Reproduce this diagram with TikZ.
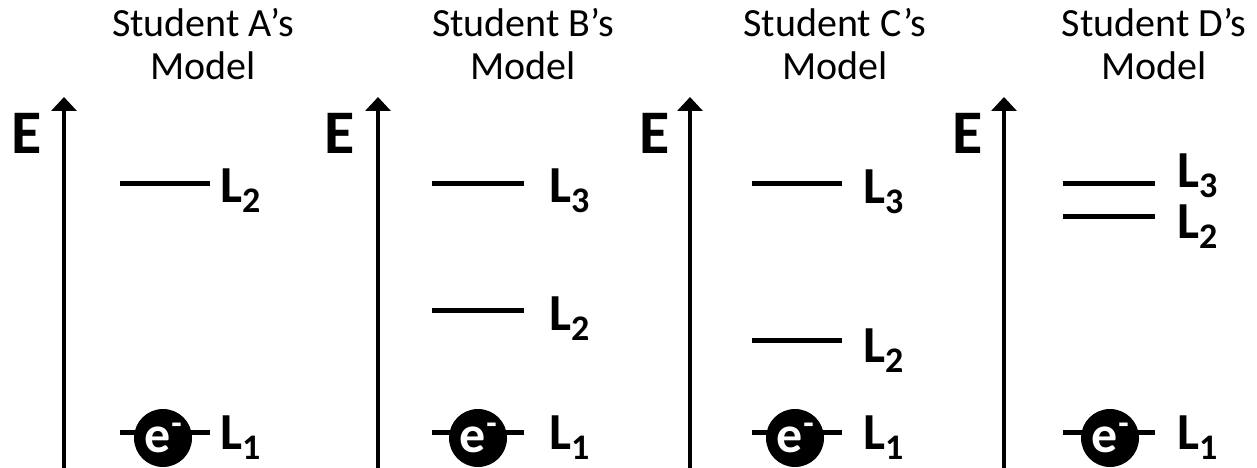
\documentclass[tikz,border=0pt]{standalone}
\usepackage{fontspec}
\setmainfont{Carlito}
\usetikzlibrary{arrows.meta,positioning}

\tikzset{
  axis/.style={line width=4pt, -{Triangle[width=25pt,length=14pt]}},
  level/.style={line width=5pt},
  title/.style={font=\fontsize{40}{43}\selectfont, align=center, anchor=base, inner sep=0pt},
  elabel/.style={font=\bfseries\fontsize{62}{62}\selectfont, anchor=base, inner sep=0pt},
  lvl/.style={font=\bfseries\fontsize{52}{52}\selectfont, anchor=base west, inner sep=0pt},
  electron/.style={circle, fill=black, text=white, minimum size=58pt, inner sep=0pt,
    font=\bfseries\fontsize{52}{52}\selectfont},
}
\newcommand{\lsub}[1]{L\raisebox{-0.2em}{\fontsize{36}{36}\selectfont #1}}
\newcommand{\elec}{e\kern1pt\raisebox{0.36em}{\fontsize{34}{34}\selectfont -}}

\begin{document}
\begin{tikzpicture}[x=1pt, y=-1pt]
\useasboundingbox (0,0) rectangle (1257,468);

% Axes, titles and ground level with the electron
\foreach \p/\ax/\ex/\tx/\ls/\le/\ec/\lx in {A/64/27/203/120/210/163/220,
    B/378/340/523/432/524/478/549, C/690/655/835/752/842/795/863,
    D/1004/968/1154/1063/1155/1110/1177}{
  \coordinate (ax\p0) at (\ax,468);
  \coordinate (ax\p1) at (\ax,97);
  \draw[axis] (ax\p0) -- (ax\p1);
  \node[elabel] (E\p) at (\ex,153) {E};
  \node[title] (t\p) at (\tx,80) {Student \p’s\\Model};
  \coordinate (\p1l) at (\ls,432);
  \coordinate (\p1r) at (\le,432);
  \draw[level] (\p1l) -- (\p1r);
  \node[electron] (e\p) at (\ec,438) {\elec};
  \node[lvl] (l\p1) at (\lx,449) {\lsub{1}};
}

% Student A: one excited level
\coordinate (A2l) at (120,183);
\coordinate (A2r) at (210,183);
\draw[level] (A2l) -- (A2r);
\node[lvl] (lA2) at (220,202) {\lsub{2}};

% Student B: evenly spread levels
\coordinate (B2l) at (432,310);
\coordinate (B2r) at (524,310);
\draw[level] (B2l) -- (B2r);
\node[lvl] (lB2) at (549,330) {\lsub{2}};
\coordinate (B3l) at (432,183);
\coordinate (B3r) at (524,183);
\draw[level] (B3l) -- (B3r);
\node[lvl] (lB3) at (549,202) {\lsub{3}};

% Student C: L2 close to the ground level
\coordinate (C2l) at (752,340);
\coordinate (C2r) at (842,340);
\draw[level] (C2l) -- (C2r);
\node[lvl] (lC2) at (863,362) {\lsub{2}};
\coordinate (C3l) at (752,183);
\coordinate (C3r) at (842,183);
\draw[level] (C3l) -- (C3r);
\node[lvl] (lC3) at (863,203) {\lsub{3}};

% Student D: L2 and L3 close together
\coordinate (D2l) at (1063,216);
\coordinate (D2r) at (1155,216);
\draw[level] (D2l) -- (D2r);
\node[lvl] (lD2) at (1177,238) {\lsub{2}};
\coordinate (D3l) at (1063,183);
\coordinate (D3r) at (1155,183);
\draw[level] (D3l) -- (D3r);
\node[lvl] (lD3) at (1177,187) {\lsub{3}};

\end{tikzpicture}
\end{document}
